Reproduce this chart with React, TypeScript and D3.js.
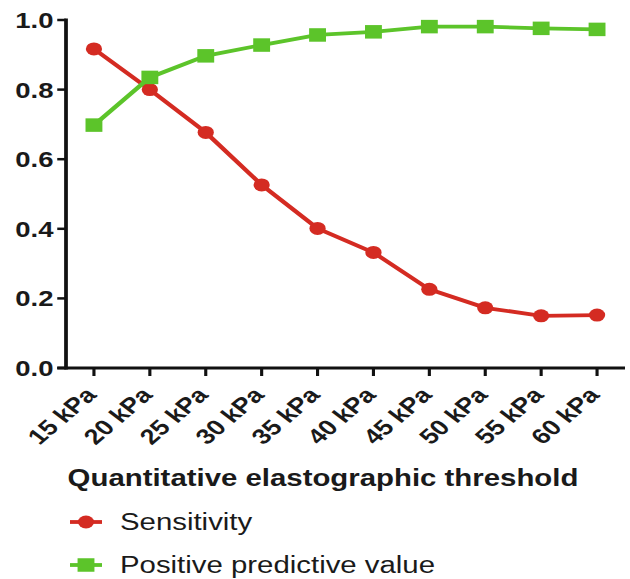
import React from "react";
import * as d3 from "d3";

const categories = ["15 kPa", "20 kPa", "25 kPa", "30 kPa", "35 kPa", "40 kPa", "45 kPa", "50 kPa", "55 kPa", "60 kPa"];
const sensitivity = [0.917, 0.8, 0.677, 0.526, 0.401, 0.332, 0.226, 0.173, 0.15, 0.152];
const ppv = [0.698, 0.835, 0.897, 0.928, 0.957, 0.966, 0.981, 0.981, 0.976, 0.973];
const yTicks = [0, 0.2, 0.4, 0.6, 0.8, 1.0];
const seriesNames = ["Sensitivity", "Positive predictive value"];
const xTitle = "Quantitative elastographic threshold";

const W = 630;
const H = 579;
const SX = 1.25; // the reference is horizontally stretched
const RED = "#d42b22";
const GREEN = "#5cc42a";
const FONT = "'Liberation Sans', Arial, Helvetica, sans-serif";

export default function App() {
  const left = 66 / SX;
  const right = 625 / SX;
  const top = 20;
  const bottom = 368;

  const x = d3.scalePoint<string>().domain(categories).range([left, right]).padding(0.5);
  const y = d3.scaleLinear().domain([0, 1]).range([bottom, top]);
  const fmt = d3.format(".1f");

  const line = d3
    .line<number>()
    .x((_, i) => x(categories[i]) as number)
    .y((d) => y(d));

  const sq = 13.5;
  const r = 6.5;

  return (
    <svg width={W} height={H} style={{ position: "absolute", left: 0, top: 0, background: "#fff" }}>
      <g transform={`scale(${SX},1)`} fontFamily={FONT}>
        {/* series */}
        <path d={line(sensitivity) || ""} fill="none" stroke={RED} strokeWidth={3.8} />
        {sensitivity.map((d, i) => (
          <circle key={"s" + i} cx={x(categories[i])} cy={y(d)} r={r} fill={RED} />
        ))}
        <path d={line(ppv) || ""} fill="none" stroke={GREEN} strokeWidth={3.8} />
        {ppv.map((d, i) => (
          <rect
            key={"p" + i}
            x={(x(categories[i]) as number) - sq / 2}
            y={y(d) - sq / 2}
            width={sq}
            height={sq}
            fill={GREEN}
          />
        ))}

        {/* y axis */}
        <line x1={left} x2={left} y1={top - 1.5} y2={bottom + 1.5} stroke="#111" strokeWidth={3} />
        {yTicks.map((t) => (
          <g key={"y" + t}>
            <line x1={left - 7} x2={left} y1={y(t)} y2={y(t)} stroke="#111" strokeWidth={2.5} />
            <text
              x={left - 10}
              y={y(t)}
              dy="0.36em"
              textAnchor="end"
              fontSize={22}
              fontWeight="bold"
              fill="#1a1a1a"
            >
              {fmt(t)}
            </text>
          </g>
        ))}

        {/* x axis */}
        <line x1={left - 7} x2={right} y1={bottom} y2={bottom} stroke="#111" strokeWidth={3} />
        {categories.map((c) => {
          const cx = x(c) as number;
          const ax = cx + 3;
          const ay = bottom + 28;
          return (
            <g key={"x" + c}>
              <line x1={cx} x2={cx} y1={bottom} y2={bottom + 8} stroke="#111" strokeWidth={2.5} />
              <text
                x={ax}
                y={ay}
                textAnchor="end"
                fontSize={21.5}
                fontWeight="bold"
                fill="#1a1a1a"
                transform={`rotate(-47,${ax},${ay})`}
              >
                {c}
              </text>
            </g>
          );
        })}

        {/* x title */}
        <text x={323 / SX} y={486} textAnchor="middle" fontSize={23.5} fontWeight="bold" fill="#1a1a1a">
          {xTitle}
        </text>

        {/* legend */}
        {seriesNames.map((name, i) => {
          const ly = 522 + i * 43;
          const lx0 = 70 / SX;
          const lx1 = 102 / SX;
          const mx = (lx0 + lx1) / 2;
          const col = i === 0 ? RED : GREEN;
          return (
            <g key={"l" + i}>
              <line x1={lx0} x2={lx1} y1={ly} y2={ly} stroke={col} strokeWidth={3.8} />
              {i === 0 ? (
                <circle cx={mx} cy={ly} r={r} fill={col} />
              ) : (
                <rect x={mx - sq / 2} y={ly - sq / 2} width={sq} height={sq} fill={col} />
              )}
              <text x={120 / SX} y={ly} dy="0.36em" fontSize={23.5} fill="#1a1a1a">
                {name}
              </text>
            </g>
          );
        })}
      </g>
    </svg>
  );
}
